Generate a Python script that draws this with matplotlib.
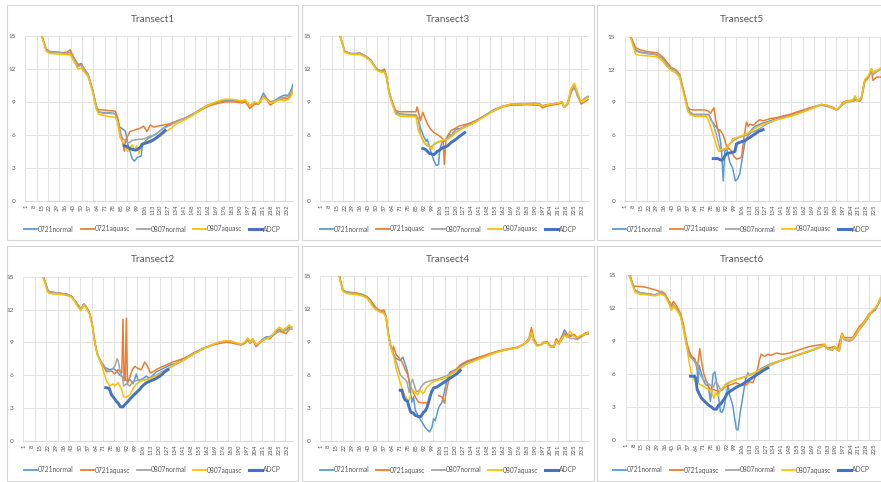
import matplotlib
matplotlib.use("Agg")
import matplotlib.pyplot as plt
from matplotlib.patches import Rectangle
from matplotlib.lines import Line2D
import numpy as np

plt.rcParams['font.family'] = ['Lato', 'DejaVu Sans']

NAN = float("nan")

SERIES_NAMES = ["0721normal", "0721aquasc", "0807normal", "0807aquasc", "ADCP"]
SERIES_COLORS = ["#5B9BD5", "#ED7D31", "#A5A5A5", "#FFC000", "#4472C4"]
SERIES_WIDTHS = [1.1, 1.1, 1.1, 1.1, 2.1]

N_CATEGORIES = 237
TICK_CATS = list(range(1, 233, 7))
TICK_LABELS = [str(c) for c in TICK_CATS]
Y_TICKS = [0, 3, 6, 9, 12, 15]

# ---------------- Transect1 ----------------
T1_0721NORMAL = [(12, 16.0), (15, 15.0), (19, 13.8), (22, 13.6), (30, 13.5), (37, 13.45), (40, 13.5), (44, 12.9),
                 (47, 12.4), (50, 12.5), (52, 12.1), (56, 11.5), (60, 10.1), (63, 8.7), (65, 8.1), (70, 8.0),
                 (75, 8.0), (80, 7.95), (82, 7.4), (84, 6.7), (87, 6.5), (89, 6.3), (91, 5.2), (93, 4.5),
                 (95, 3.8), (97, 3.6), (99, 3.9), (101, 4.0), (103, 4.1), (104, 5.1), (107, 5.5), (111, 5.8),
                 (115, 6.0), (120, 6.4), (125, 6.8), (130, 7.0), (134, 7.2), (141, 7.5), (148, 7.85), (155, 8.3),
                 (162, 8.7), (170, 8.95), (177, 9.1), (185, 9.1), (192, 9.0), (195, 9.1), (199, 8.6), (203, 8.9),
                 (207, 8.9), (211, 9.8), (214, 9.3), (217, 9.0), (221, 9.1), (225, 9.4), (229, 9.6), (233, 9.6),
                 (236, 10.2), (237, 10.6)]
T1_0721AQUASC = [(12, 16.0), (15, 15.0), (19, 13.7), (22, 13.55), (30, 13.5), (37, 13.5), (40, 13.75), (44, 12.9),
                 (47, 12.3), (50, 12.4), (52, 12.0), (56, 11.4), (60, 10.0), (63, 8.6), (65, 8.3), (70, 8.25),
                 (75, 8.2), (80, 8.15), (82, 7.6), (84, 6.5), (86, 5.6), (88, 4.5), (89, 5.5), (91, 5.9),
                 (93, 6.3), (96, 6.4), (99, 6.5), (102, 6.6), (105, 6.8), (108, 6.3), (111, 6.9), (114, 6.7),
                 (118, 6.8), (123, 6.9), (128, 7.0), (134, 7.25), (141, 7.5), (148, 7.8), (155, 8.2), (162, 8.6),
                 (170, 8.85), (177, 9.0), (185, 9.0), (192, 8.9), (195, 9.0), (199, 8.4), (203, 8.8), (207, 8.8),
                 (211, 9.5), (214, 9.2), (217, 8.7), (221, 9.0), (225, 9.2), (229, 9.3), (233, 9.3), (236, 9.8),
                 (237, 10.1)]
T1_0807NORMAL = [(12, 16.0), (15, 15.0), (19, 13.7), (22, 13.55), (30, 13.5), (37, 13.4), (40, 13.5), (44, 12.8),
                 (47, 12.2), (50, 12.35), (52, 12.0), (56, 11.4), (60, 10.0), (63, 8.6), (65, 8.1), (70, 7.95),
                 (75, 7.95), (80, 7.9), (82, 7.2), (85, 6.0), (87, 5.6), (89, 5.5), (91, 5.3), (93, 5.3),
                 (95, 5.5), (98, 5.55), (101, 5.6), (104, 5.6), (107, 5.7), (111, 5.9), (115, 6.0), (120, 6.4),
                 (125, 6.7), (130, 6.95), (134, 7.2), (141, 7.5), (148, 7.85), (155, 8.3), (162, 8.7), (170, 9.0),
                 (177, 9.2), (185, 9.2), (192, 9.0), (195, 9.1), (199, 8.7), (203, 8.9), (207, 8.9), (211, 9.5),
                 (214, 9.2), (217, 9.0), (221, 9.1), (225, 9.3), (229, 9.4), (233, 9.5), (236, 9.9), (237, 10.2)]
T1_0807AQUASC = [(12, 16.0), (15, 15.0), (19, 13.6), (22, 13.4), (30, 13.35), (37, 13.3), (40, 13.3), (44, 12.6),
                 (47, 12.0), (50, 12.1), (52, 11.8), (56, 11.3), (60, 9.9), (63, 8.4), (65, 7.9), (70, 7.75),
                 (75, 7.65), (80, 7.6), (82, 7.2), (84, 5.8), (87, 5.3), (89, 5.0), (91, 4.5), (93, 4.8),
                 (95, 5.1), (97, 4.6), (99, 5.0), (101, 4.3), (103, 5.2), (105, 5.3), (108, 5.4), (111, 5.5),
                 (115, 5.6), (120, 5.9), (125, 6.3), (130, 6.65), (134, 7.0), (141, 7.35), (148, 7.75), (155, 8.25),
                 (162, 8.7), (170, 9.05), (177, 9.25), (185, 9.2), (192, 9.1), (195, 9.2), (199, 8.6), (203, 9.0),
                 (207, 8.9), (211, 9.4), (214, 9.2), (217, 8.9), (221, 9.0), (225, 9.2), (229, 9.1), (233, 9.2),
                 (236, 9.6), (237, 10.0)]
T1_ADCP = [(88, 5.0), (90, 4.95), (92, 4.8), (94, 4.7), (96, 4.65), (98, 4.6), (100, 4.7), (102, 4.85),
           (104, 5.15), (107, 5.25), (110, 5.35), (113, 5.5), (116, 5.7), (119, 5.95), (122, 6.2), (124, 6.4)]

# ---------------- Transect3 ----------------
T3_0721NORMAL = [(15, 16.2), (18, 15.0), (22, 13.6), (27, 13.4), (33, 13.4), (35, 13.45), (40, 13.2), (45, 12.8),
                 (50, 12.0), (54, 11.8), (57, 11.9), (59, 11.3), (61, 10.0), (64, 8.9), (67, 8.1), (71, 7.9),
                 (78, 7.85), (85, 7.8), (87, 7.4), (89, 6.6), (92, 5.8), (94, 5.4), (95, 5.6), (97, 4.9),
                 (98, 4.5), (101, 3.6), (103, 3.2), (105, 3.3), (106, 4.7), (108, 5.3), (111, 5.5), (114, 6.1),
                 (116, 5.9), (120, 6.5), (125, 6.6), (130, 6.9), (134, 7.1), (140, 7.4), (147, 7.85), (154, 8.3),
                 (162, 8.6), (169, 8.75), (176, 8.8), (183, 8.8), (190, 8.85), (194, 8.8), (197, 8.6), (200, 8.7),
                 (205, 8.8), (211, 8.9), (214, 9.0), (216, 8.5), (219, 8.8), (222, 10.0), (225, 10.4), (228, 9.5),
                 (231, 9.0), (234, 9.3), (237, 9.5)]
T3_0721AQUASC = [(15, 16.2), (18, 15.0), (22, 13.6), (27, 13.4), (33, 13.35), (35, 13.4), (40, 13.2), (45, 12.8),
                 (50, 12.0), (54, 11.8), (57, 12.0), (59, 11.3), (61, 10.0), (64, 9.0), (67, 8.2), (71, 8.1),
                 (78, 8.1), (85, 8.1), (86, 8.55), (89, 7.3), (91, 8.05), (95, 7.0), (98, 6.5), (101, 6.2),
                 (104, 6.0), (107, 5.8), (109, 5.6), (110, 3.3), (111.5, 5.6), (114, 6.0), (116, 6.4), (118, 6.5),
                 (120, 6.6), (123, 6.8), (127, 6.9), (134, 7.1), (140, 7.4), (147, 7.8), (154, 8.2), (162, 8.55),
                 (169, 8.7), (176, 8.7), (183, 8.75), (190, 8.7), (194, 8.7), (197, 8.45), (200, 8.6), (205, 8.7),
                 (211, 8.8), (214, 8.9), (216, 8.5), (219, 8.8), (222, 9.8), (225, 10.5), (228, 9.6), (231, 8.8),
                 (234, 9.0), (237, 9.2)]
T3_0807NORMAL = [(15, 16.2), (18, 15.0), (22, 13.6), (27, 13.4), (33, 13.4), (35, 13.5), (40, 13.2), (45, 12.8),
                 (50, 12.0), (54, 11.8), (57, 11.8), (59, 11.2), (61, 10.0), (64, 8.9), (67, 8.0), (71, 7.85),
                 (78, 7.8), (85, 7.8), (87, 7.5), (89, 6.0), (92, 5.3), (95, 5.0), (98, 4.9), (101, 5.1),
                 (104, 5.3), (110, 5.5), (116, 5.9), (122, 6.4), (128, 6.7), (134, 7.0), (140, 7.35), (147, 7.8),
                 (154, 8.25), (162, 8.6), (169, 8.8), (176, 8.85), (183, 8.85), (190, 8.9), (194, 8.85), (197, 8.65),
                 (200, 8.75), (205, 8.8), (211, 8.9), (214, 9.0), (216, 8.5), (219, 8.8), (222, 9.9), (225, 10.3),
                 (228, 9.5), (231, 9.0), (234, 9.3), (237, 9.45)]
T3_0807AQUASC = [(15, 16.2), (18, 15.0), (22, 13.5), (27, 13.35), (33, 13.3), (35, 13.35), (40, 13.1), (45, 12.7),
                 (50, 11.9), (54, 11.7), (57, 11.7), (59, 11.2), (61, 9.9), (64, 8.8), (67, 7.9), (71, 7.7),
                 (78, 7.65), (85, 7.65), (87, 6.4), (90, 5.8), (92, 5.3), (95, 5.1), (97, 4.9), (99, 4.7),
                 (101, 5.2), (104, 5.35), (108, 5.5), (113, 5.6), (116, 5.8), (120, 6.2), (126, 6.6), (134, 6.95),
                 (140, 7.3), (147, 7.75), (154, 8.2), (162, 8.6), (169, 8.8), (176, 8.8), (183, 8.8), (190, 8.8),
                 (194, 8.75), (197, 8.6), (200, 8.7), (205, 8.8), (211, 8.9), (214, 9.0), (216, 8.5), (219, 8.9),
                 (222, 10.2), (225, 10.7), (228, 9.8), (231, 9.0), (234, 9.2), (237, 9.4)]
T3_ADCP = [(91, 4.75), (93, 4.7), (95, 4.5), (97, 4.3), (99, 4.25), (101, 4.2), (104, 4.5), (106, 4.6),
           (108, 4.8), (111, 4.9), (113, 5.0), (116, 5.3), (119, 5.5), (121, 5.65), (124, 5.9), (128, 6.2)]

# ---------------- Transect5 ----------------
T5_0721NORMAL = [(3, 16.0), (5.5, 15.0), (10, 13.8), (14, 13.6), (20, 13.5), (27, 13.4), (30, 13.3), (35, 12.9),
                 (38, 12.5), (42, 12.1), (46, 11.9), (48, 11.7), (50, 11.4), (52, 10.5), (54.5, 9.5), (57, 8.5),
                 (59, 8.1), (62, 7.9), (72, 7.9), (76, 7.9), (78.5, 7.3), (81.5, 6.9), (84.5, 6.5), (86.6, 5.4),
                 (87.5, 4.5), (89, 1.8), (90.5, 4.5), (92, 4.8), (95, 3.5), (97.4, 3.0), (100, 1.8), (102, 2.0),
                 (104, 2.5), (106.4, 4.0), (108.5, 5.3), (111.5, 6.0), (114.5, 6.5), (117.5, 6.8), (122, 7.0),
                 (128, 7.2), (137, 7.5), (149, 7.8), (158, 8.1), (167, 8.4), (174.6, 8.7), (177.6, 8.8),
                 (183.5, 8.7), (186.6, 8.5), (191, 8.3), (192.6, 8.4), (197, 8.9), (200, 9.1), (206, 9.2),
                 (208, 9.3), (212, 9.1), (213.6, 9.5), (216.6, 11.0), (219.6, 11.3), (222.6, 12.0), (224, 11.7),
                 (227, 11.8), (231, 12.1), (236, 12.3)]
T5_0721AQUASC = [(3, 16.2), (5.5, 15.1), (10, 14.0), (14, 13.8), (20, 13.65), (27, 13.55), (30, 13.5), (35, 13.1),
                 (38, 12.7), (42, 12.2), (46, 12.0), (48, 11.8), (50, 11.5), (52, 10.6), (54.5, 9.6), (57, 8.6),
                 (59, 8.35), (62, 8.3), (72, 8.3), (75.5, 8.2), (77.6, 8.0), (80.6, 8.5), (82.4, 7.3), (84.5, 6.3),
                 (86, 6.5), (89, 6.0), (90.5, 5.5), (92, 5.0), (93.5, 4.8), (96, 4.6), (99, 4.0), (101, 3.8),
                 (104, 3.9), (105.5, 4.0), (108, 6.0), (110, 7.2), (111.5, 6.8), (113, 7.0), (116, 6.9),
                 (119, 7.2), (122, 7.4), (125, 7.3), (131, 7.5), (137, 7.6), (149, 7.9), (158, 8.2), (167, 8.5),
                 (174.6, 8.7), (177.6, 8.75), (183.5, 8.6), (186.6, 8.6), (191, 8.35), (192.6, 8.4), (197, 9.0),
                 (200, 9.1), (206, 9.1), (208, 9.2), (212, 9.1), (213.6, 9.3), (216.6, 10.9), (219.6, 11.2),
                 (222.6, 11.9), (224, 11.0), (227, 11.3), (231, 11.3), (236, 11.5)]
T5_0807NORMAL = [(3, 16.0), (5.5, 15.0), (10, 13.7), (14, 13.55), (20, 13.45), (27, 13.4), (30, 13.3), (35, 12.9),
                 (38, 12.5), (42, 12.1), (46, 11.9), (48, 11.7), (50, 11.4), (52, 10.5), (54.5, 9.5), (57, 8.5),
                 (59, 8.05), (62, 7.85), (72, 7.85), (76, 7.85), (80, 7.0), (83, 6.0), (85.4, 5.0), (86.9, 4.5),
                 (89, 4.6), (92, 4.8), (95, 5.2), (99.5, 5.6), (104, 5.8), (110, 6.0), (116, 6.3), (122, 6.6),
                 (128, 7.0), (137, 7.4), (149, 7.75), (158, 8.05), (167, 8.4), (174.6, 8.7), (177.6, 8.8),
                 (183.5, 8.6), (186.6, 8.5), (191, 8.3), (192.6, 8.4), (197, 8.8), (200, 9.0), (206, 9.1),
                 (208, 9.2), (212, 9.1), (213.6, 9.4), (216.6, 11.0), (219.6, 11.3), (222.6, 12.0), (224, 11.5),
                 (227, 11.8), (231, 12.0), (236, 12.2)]
T5_0807AQUASC = [(3, 15.8), (5.5, 14.9), (10, 13.4), (14, 13.3), (20, 13.25), (27, 13.2), (30, 13.15), (35, 12.7),
                 (38, 12.3), (42, 11.9), (46, 11.7), (48, 11.5), (50, 11.2), (52, 10.3), (54.5, 9.3), (57, 8.2),
                 (59, 7.9), (62, 7.75), (72, 7.7), (74, 7.7), (77, 7.0), (80, 6.0), (83, 5.0), (85.1, 4.5),
                 (87.5, 4.7), (92, 4.8), (95, 5.2), (98, 5.7), (102.5, 5.8), (107, 6.0), (113, 6.3), (119, 6.7),
                 (125, 7.0), (131, 7.2), (137, 7.4), (149, 7.7), (158, 8.0), (167, 8.35), (174.6, 8.65),
                 (177.6, 8.8), (183.5, 8.7), (186.6, 8.5), (191, 8.35), (192.6, 8.45), (197, 8.9), (200, 9.1),
                 (206, 9.2), (207.6, 9.6), (210, 9.1), (213.6, 9.5), (216.6, 11.1), (219.6, 11.4), (222.6, 12.1),
                 (224, 11.7), (227, 11.9), (231, 12.1), (236, 12.3)]
T5_ADCP = [(80, 3.85), (82, 3.85), (84.5, 3.85), (86, 3.75), (87.5, 3.7), (89, 3.8), (90.5, 4.1), (92, 4.3),
           (94, 4.35), (96.5, 4.4), (99.5, 4.5), (101, 5.2), (103, 5.3), (105.5, 5.4), (108.5, 5.5),
           (111.5, 5.7), (114, 5.85), (116, 6.0), (119, 6.2), (121, 6.35), (125, 6.5)]

# ---------------- Transect2 ----------------
T2_0721NORMAL = [(15, 16.0), (18, 15.0), (21.8, 13.8), (23.8, 13.6), (31, 13.5), (38.4, 13.4), (42.8, 13.2),
                 (45.7, 12.8), (48.7, 12.4), (51, 12.0), (53.6, 12.5), (55.4, 12.3), (57.4, 11.9), (58.9, 11.6),
                 (61.2, 10.5), (63.3, 9.0), (65.3, 8.0), (67.7, 7.4), (69.1, 7.0), (72.1, 6.7), (76.4, 6.5),
                 (79.4, 6.6), (82.3, 6.4), (85.2, 6.0), (88.1, 5.8), (91.1, 5.5), (94, 5.6), (96.9, 5.2),
                 (99.8, 6.1), (101.3, 5.5), (104.2, 5.6), (108.6, 5.9), (111.5, 5.7), (114.5, 6.0), (117.4, 6.3),
                 (123.2, 6.6), (129, 6.9), (135, 7.1), (142, 7.5), (149.5, 8.0), (158.3, 8.45), (167.1, 8.8),
                 (172.9, 9.0), (178.8, 9.1), (183.2, 9.05), (187.5, 8.9), (192, 8.8), (194.9, 8.9), (197.8, 9.3),
                 (199.8, 9.0), (202.2, 9.3), (205.1, 8.7), (208, 9.0), (211, 9.3), (213.9, 9.5), (216.8, 9.5),
                 (219.7, 9.7), (222.6, 10.0), (225.6, 10.2), (228.5, 10.0), (231.4, 10.2), (234.3, 10.4),
                 (236.4, 10.2)]
T2_0721AQUASC = [(15, 16.0), (18, 15.0), (21.8, 13.8), (23.8, 13.6), (31, 13.5), (38.4, 13.4), (42.8, 13.2),
                 (45.7, 12.8), (48.7, 12.4), (51, 12.0), (53.6, 12.5), (55.4, 12.3), (57.4, 11.9), (58.9, 11.6),
                 (61.2, 10.5), (63.3, 9.0), (65.3, 8.0), (67.7, 7.4), (70.6, 6.9), (73.5, 6.3), (77.9, 6.4),
                 (80.8, 6.1), (83.7, 6.5), (85.8, 6.3), (87, 6.2), (88, 11.1), (89, 5.5), (90, 5.6), (91, 11.2),
                 (92, 5.2), (94.6, 6.0), (96.3, 6.5), (98.4, 6.8), (101.3, 6.6), (104.2, 6.5), (107.1, 7.2),
                 (109.2, 6.9), (112.1, 6.2), (114.5, 6.3), (118.8, 6.6), (123.2, 6.8), (127.6, 7.0), (132, 7.2),
                 (135, 7.3), (142, 7.55), (149.5, 7.95), (158.3, 8.4), (167.1, 8.75), (172.9, 8.9), (178.8, 9.0),
                 (183.2, 8.95), (187.5, 8.85), (192, 8.75), (194.9, 8.9), (197.8, 9.2), (199.8, 8.9), (202.2, 9.2),
                 (205.1, 8.6), (208, 8.9), (211, 9.2), (213.9, 9.4), (216.8, 9.3), (219.7, 9.6), (222.6, 9.9),
                 (225.6, 10.0), (228.5, 9.9), (231.4, 9.8), (234.3, 10.2), (236.4, 10.4)]
T2_0807NORMAL = [(15, 16.0), (18, 15.0), (21.8, 13.8), (23.8, 13.6), (31, 13.5), (38.4, 13.4), (42.8, 13.2),
                 (45.7, 12.8), (48.7, 12.4), (51, 12.0), (53.6, 12.5), (55.4, 12.3), (57.4, 11.9), (58.9, 11.6),
                 (61.2, 10.5), (63.3, 9.0), (65.3, 8.0), (67.7, 7.4), (70.6, 7.0), (73.5, 6.5), (76.4, 6.3),
                 (80.8, 6.8), (82.9, 7.5), (84, 7.2), (85.8, 6.2), (87.5, 5.8), (88.7, 5.0), (91.1, 5.2),
                 (94, 5.0), (96.9, 5.4), (99.8, 5.5), (104.2, 5.6), (108.6, 5.6), (113, 5.8), (117.4, 6.0),
                 (121.8, 6.3), (127.6, 6.6), (135, 7.0), (142, 7.4), (149.5, 7.9), (158.3, 8.4), (167.1, 8.8),
                 (172.9, 9.0), (178.8, 9.1), (183.2, 9.1), (187.5, 8.9), (192, 8.8), (194.9, 8.9), (197.8, 9.3),
                 (199.8, 9.0), (202.2, 9.3), (205.1, 8.7), (208, 9.0), (211, 9.2), (213.9, 9.4), (216.8, 9.5),
                 (219.7, 9.6), (222.6, 9.8), (225.6, 10.1), (228.5, 10.0), (231.4, 10.1), (234.3, 10.3),
                 (236.4, 10.2)]
T2_0807AQUASC = [(15, 15.9), (18, 14.9), (21.8, 13.6), (23.8, 13.45), (31, 13.4), (38.4, 13.3), (42.8, 13.1),
                 (45.7, 12.7), (48.7, 12.2), (51, 11.9), (53.6, 12.4), (55.4, 12.2), (57.4, 11.8), (58.9, 11.5),
                 (61.2, 10.4), (63.3, 8.9), (65.3, 7.9), (67.7, 7.3), (69.1, 7.0), (71.2, 6.2), (73.5, 5.5),
                 (76.4, 5.0), (79.4, 5.2), (80.8, 5.0), (83.7, 5.3), (86.7, 4.7), (88.7, 4.0), (91.1, 4.0),
                 (94, 4.2), (96.9, 4.8), (99.8, 5.2), (102.8, 5.4), (105.7, 5.5), (110.1, 5.6), (114.5, 5.8),
                 (118.8, 6.0), (123.2, 6.3), (127.6, 6.6), (133.5, 7.0), (142, 7.4), (149.5, 7.9), (158.3, 8.4),
                 (167.1, 8.8), (172.9, 9.05), (178.8, 9.15), (183.2, 9.1), (187.5, 8.95), (192, 8.85),
                 (194.9, 9.0), (197.8, 9.4), (199.8, 9.0), (202.2, 9.3), (205.1, 8.8), (208, 9.0), (211, 9.2),
                 (213.9, 9.3), (216.8, 9.4), (219.7, 9.7), (222.6, 10.1), (225.6, 10.4), (228.5, 10.1),
                 (231.4, 10.3), (234.3, 10.6), (236.4, 10.3)]
T2_ADCP = [(72.9, 4.85), (75.9, 4.8), (77.9, 4.2), (80.2, 3.9), (82.3, 3.6), (84, 3.4), (85.8, 3.1), (88.1, 3.1),
           (90.5, 3.4), (92.5, 3.6), (94.9, 3.9), (96.9, 4.1), (99.8, 4.4), (102.8, 4.7), (105.1, 5.0),
           (108.6, 5.3), (113, 5.5), (117.4, 5.7), (121.8, 6.0), (124.7, 6.3), (127.6, 6.5)]

# ---------------- Transect4 ----------------
T4_0721NORMAL = [(14, 16.2), (17.5, 15.0), (20.5, 13.7), (24, 13.5), (33, 13.4), (37.3, 13.3), (41.7, 13.1),
                 (44.7, 12.8), (47, 12.4), (50, 12.0), (53.5, 11.8), (56.5, 11.7), (58.8, 11.3), (60.3, 10.0),
                 (62.4, 8.8), (64.7, 8.0), (67.7, 7.5), (71.2, 7.3), (73.6, 7.6), (75.6, 7.0), (77.7, 6.3),
                 (80, 4.8), (81.5, 3.5), (83, 4.0), (84.5, 2.8), (87.4, 2.2), (90.4, 1.7), (93.3, 1.2),
                 (97.2, 0.8), (99.2, 1.2), (100.7, 2.0), (102.2, 1.8), (105.1, 3.0), (108.1, 3.5), (111, 4.8),
                 (112.5, 5.5), (114.9, 6.2), (118.4, 6.4), (121.4, 6.5), (124.3, 6.8), (127.3, 7.0),
                 (130.2, 7.15), (139, 7.5), (147.9, 7.8), (156.8, 8.1), (165.6, 8.3), (174.5, 8.5), (180.4, 8.8),
                 (184.8, 9.2), (187.1, 9.9), (189.2, 9.1), (192.2, 8.7), (195.1, 8.7), (198.1, 9.0), (201, 9.0),
                 (204, 8.6), (206.9, 8.5), (209, 9.1), (211.3, 8.8), (213.4, 9.3), (216.3, 10.1), (218.7, 9.7),
                 (221.7, 9.6), (224.6, 9.6), (227.5, 9.3), (230.5, 9.5), (234.9, 9.8), (237, 9.8)]
T4_0721AQUASC = [(14, 16.2), (17.5, 15.0), (20.5, 13.75), (24, 13.55), (33, 13.45), (37.3, 13.35), (41.7, 13.15),
                 (44.7, 12.85), (47, 12.5), (50, 12.1), (53.5, 11.85), (57, 11.9), (58.8, 11.3), (60.3, 10.0),
                 (62.4, 8.8), (64.7, 8.1), (65.3, 8.6), (67.7, 7.8), (69.7, 7.6), (72.7, 7.2), (75.6, 6.5),
                 (78, 6.0), (80, 5.0), (82.4, 4.5), (84.5, 4.0), (87.4, 3.5), (90.4, 3.45), (96.3, 3.45),
                 (100, NAN), (105.1, 4.1), (108.1, 4.0), (110.4, 3.4), (111.9, 4.5), (114, 5.5), (116, 6.3),
                 (118.4, 6.2), (121.4, 6.6), (124.3, 6.9), (127.3, 7.1), (130.2, 7.25), (139, 7.55), (147.9, 7.85),
                 (156.8, 8.15), (165.6, 8.35), (174.5, 8.5), (180.4, 8.8), (184.8, 9.3), (187.1, 10.3),
                 (189.2, 9.3), (192.2, 8.7), (195.1, 8.7), (198.1, 9.0), (201, 9.0), (204, 8.6), (206.9, 8.6),
                 (209, 9.3), (211.3, 8.9), (213.4, 9.4), (216.3, 9.8), (218.7, 9.6), (221.7, 9.5), (224.6, 9.7),
                 (227.5, 9.4), (230.5, 9.5), (234.9, 9.8), (237, 9.7)]
T4_0807NORMAL = [(14, 16.2), (17.5, 15.0), (20.5, 13.7), (24, 13.5), (33, 13.4), (37.3, 13.3), (41.7, 13.1),
                 (44.7, 12.7), (47, 12.3), (50, 12.0), (53.5, 11.8), (56.5, 11.7), (58.8, 11.3), (60.3, 10.0),
                 (62.4, 8.8), (64.7, 8.0), (65.9, 7.8), (68.3, 7.0), (71.2, 6.0), (74.2, 5.7), (77.1, 5.4),
                 (79.2, 4.4), (80.6, 5.2), (82.1, 5.6), (83, 5.3), (85.4, 4.5), (87.4, 4.5), (90.4, 5.0),
                 (93.3, 5.3), (96.3, 5.4), (99.2, 5.5), (103.7, 5.6), (109.6, 5.8), (115.5, 6.1), (121.4, 6.4),
                 (125.8, 6.7), (130.2, 7.0), (139, 7.4), (147.9, 7.75), (156.8, 8.1), (165.6, 8.3), (174.5, 8.45),
                 (180.4, 8.75), (184.8, 9.1), (187.1, 9.7), (189.2, 9.1), (192.2, 8.7), (195.1, 8.7), (198.1, 8.9),
                 (201, 8.9), (204, 8.6), (206.9, 8.6), (209, 9.0), (211.3, 8.8), (213.4, 9.1), (216.3, 9.7),
                 (218.7, 9.5), (221.7, 9.3), (224.6, 9.3), (227.5, 9.2), (230.5, 9.4), (234.9, 9.7), (237, 9.8)]
T4_0807AQUASC = [(14, 16.0), (17.5, 14.9), (20.5, 13.6), (24, 13.4), (33, 13.3), (37.3, 13.2), (41.7, 13.0),
                 (44.7, 12.6), (47, 12.2), (50, 11.9), (53.5, 11.7), (56.5, 11.6), (58.8, 11.2), (60.3, 9.9),
                 (62.4, 8.7), (64.7, 7.9), (65.9, 7.5), (67.7, 6.5), (70.6, 5.5), (72.7, 4.8), (75, 4.2),
                 (77.1, 3.8), (78.6, 3.6), (80.6, 4.2), (82.4, 4.6), (84.5, 4.4), (86.8, 4.2), (88.8, 4.6),
                 (91.3, 4.3), (92.4, 4.4), (94.2, 4.8), (97.2, 5.1), (99.2, 5.3), (103.7, 5.5), (108.1, 5.6),
                 (112.5, 5.8), (116.9, 6.1), (121.4, 6.4), (125.8, 6.7), (130.2, 7.0), (139, 7.35), (147.9, 7.7),
                 (156.8, 8.05), (165.6, 8.3), (174.5, 8.45), (180.4, 8.8), (184.8, 9.2), (187.1, 9.9), (189.2, 9.0),
                 (192.2, 8.6), (195.1, 8.7), (198.1, 9.0), (201, 8.9), (204, 8.5), (206.9, 8.6), (209, 9.1),
                 (211.3, 8.8), (213.4, 9.2), (216.3, 9.6), (218.7, 9.4), (221.1, 10.0), (224.6, 9.5), (227.5, 9.4),
                 (230.5, 9.6), (234.9, 9.7), (237, 9.9)]
T4_ADCP = [(71.2, 4.6), (72.7, 4.6), (74.2, 4.0), (75.6, 3.7), (77.7, 3.6), (79.2, 3.0), (80.6, 2.6), (83, 2.5),
           (84.5, 2.3), (87.4, 2.2), (89.5, 2.2), (91.9, 2.6), (93.3, 2.7), (94.8, 3.0), (96.3, 3.5),
           (97.8, 4.1), (99.2, 4.5), (100.7, 4.8), (103.7, 4.9), (106.6, 5.1), (109.6, 5.3), (114, 5.6),
           (118.4, 5.9), (121.4, 6.1), (124.3, 6.4)]

# ---------------- Transect6 ----------------
T6_0721NORMAL = [(1, 16.5), (4, 15.0), (9.1, 13.6), (13.6, 13.4), (19.6, 13.3), (27.1, 13.2), (30.1, 13.3),
                 (31.6, 13.4), (36.1, 13.2), (38.2, 12.8), (40.6, 12.3), (42.1, 11.9), (43.6, 12.3), (46, 12.0),
                 (48.1, 11.7), (50.2, 11.3), (52.6, 10.3), (54.1, 9.5), (55.6, 8.7), (58.6, 7.8), (60.7, 7.5),
                 (63.1, 7.2), (64.6, 7.0), (66.1, 5.2), (67, 6.8), (70.6, 5.5), (73, 5.0), (75.1, 5.0),
                 (77.2, 3.5), (79.6, 6.0), (81.1, 6.2), (83.2, 5.0), (85, 3.5), (86.2, 2.6), (87.7, 2.5),
                 (89.5, 3.0), (91.6, 4.2), (93.1, 5.0), (94.6, 4.0), (96.1, 3.6), (97.6, 3.0), (99, 2.0),
                 (100.5, 1.0), (102, 0.9), (104.1, 2.5), (106.5, 4.0), (108.9, 5.5), (111, 6.1), (112.5, 5.9),
                 (115.5, 6.0), (118.5, 6.2), (123, 6.5), (129, 6.8), (133.5, 7.0), (142.5, 7.3), (151.5, 7.6),
                 (160.5, 7.9), (169.5, 8.2), (177, 8.5), (180, 8.7), (183, 8.3), (187.5, 8.2), (189, 8.5),
                 (192, 8.2), (193.5, 8.1), (195.9, 9.6), (198, 9.2), (202.5, 9.0), (205.5, 9.2), (208.5, 9.6),
                 (211.5, 10.1), (214.5, 10.4), (217.5, 10.8), (220.5, 11.3), (223.5, 11.7), (225.9, 11.8),
                 (228, 12.2), (230.4, 12.7), (235.5, 13.3)]
T6_0721AQUASC = [(1, 16.8), (4, 15.2), (7.6, 14.0), (13.6, 13.95), (18.1, 13.9), (25.6, 13.7), (31.6, 13.5),
                 (33.1, 13.5), (36.1, 13.3), (38.2, 12.9), (40.6, 12.5), (42.1, 12.2), (43.6, 12.6), (46, 12.3),
                 (48.1, 11.9), (50.2, 11.5), (52.6, 10.6), (54.1, 9.8), (55.6, 9.0), (56.5, 8.6), (59.5, 7.7),
                 (61.6, 7.5), (63.1, 7.4), (64, 6.9), (65.2, 6.5), (67.6, 8.3), (69.4, 7.0), (71.2, 6.0),
                 (73, 5.5), (75.1, 5.0), (77.2, 4.5), (80, 4.6), (85, 4.4), (90, 4.8), (95, 5.0), (100, 5.2),
                 (105, 5.0), (109.5, 5.0), (112.5, 5.3), (115.5, 5.2), (118.5, 6.0), (120, 6.6), (121.5, 7.3),
                 (123, 7.8), (126, 7.6), (129, 7.8), (132, 7.7), (136.5, 7.9), (142.5, 7.8), (148.5, 7.9),
                 (154.5, 8.1), (160.5, 8.3), (166.5, 8.5), (172.5, 8.6), (178.5, 8.7), (181.5, 8.4), (186, 8.4),
                 (189, 8.5), (192, 8.3), (195.9, 9.7), (198, 9.3), (202.5, 9.3), (205.5, 9.3), (208.5, 9.8),
                 (211.5, 10.3), (214.5, 10.6), (217.5, 11.0), (220.5, 11.5), (223.5, 11.6), (225.9, 11.9),
                 (228, 12.3), (230.4, 12.8), (235.5, 13.4)]
T6_0807NORMAL = [(1, 16.5), (4, 15.0), (9.1, 13.6), (13.6, 13.4), (19.6, 13.3), (27.1, 13.2), (30.1, 13.3),
                 (31.6, 13.4), (36.1, 13.2), (38.2, 12.8), (40.6, 12.3), (42.1, 11.9), (43.6, 12.3), (46, 12.0),
                 (48.1, 11.7), (50.2, 11.3), (52.6, 10.3), (54.1, 9.5), (55.6, 8.7), (58.6, 7.6), (64, 7.0),
                 (67.6, 6.0), (70.6, 5.5), (73.5, 5.3), (76.6, 5.0), (79.6, 4.8), (82, 5.3), (84.1, 5.0),
                 (86.2, 4.6), (88, 4.5), (90.1, 5.0), (93.1, 5.2), (97.6, 5.4), (103.5, 5.6), (109.5, 5.8),
                 (115.5, 6.0), (121.5, 6.3), (126, 6.5), (133.5, 6.9), (142.5, 7.25), (151.5, 7.55), (160.5, 7.85),
                 (169.5, 8.15), (177, 8.45), (180, 8.6), (183, 8.25), (187.5, 8.15), (189, 8.4), (192, 8.15),
                 (193.5, 8.1), (195.9, 9.5), (198, 9.1), (202.5, 9.0), (205.5, 9.1), (208.5, 9.5), (211.5, 10.0),
                 (214.5, 10.4), (217.5, 10.8), (220.5, 11.3), (223.5, 11.7), (225.9, 11.8), (228, 12.2),
                 (230.4, 12.7), (235.5, 13.3)]
T6_0807AQUASC = [(1, 16.3), (4, 14.9), (9.1, 13.4), (13.6, 13.25), (19.6, 13.2), (27.1, 13.1), (30.1, 13.2),
                 (31.6, 13.3), (36.1, 13.1), (38.2, 12.7), (40.6, 12.2), (42.1, 11.8), (43.6, 12.2), (46, 11.9),
                 (48.1, 11.6), (50.2, 11.2), (52.6, 10.2), (54.1, 9.4), (55.6, 8.6), (56.5, 8.0), (58, 7.0),
                 (60.1, 6.0), (62.2, 5.5), (64.6, 5.2), (69.1, 5.0), (72.1, 4.8), (75.1, 4.6), (78.1, 4.5),
                 (80.2, 3.8), (82, 4.3), (84.1, 4.0), (86.2, 4.5), (88.6, 4.8), (91.6, 5.0), (96.1, 5.3),
                 (100.5, 5.5), (105, 5.6), (109.5, 5.8), (114, 6.0), (118.5, 6.2), (124.5, 6.5), (133.5, 6.95),
                 (142.5, 7.3), (151.5, 7.6), (160.5, 7.9), (169.5, 8.2), (177, 8.5), (180, 8.7), (183, 8.3),
                 (187.5, 8.2), (189, 8.5), (192, 8.2), (193.5, 8.15), (195.9, 9.6), (198, 9.2), (202.5, 9.1),
                 (205.5, 9.2), (208.5, 9.6), (211.5, 10.1), (214.5, 10.5), (217.5, 10.9), (220.5, 11.4),
                 (223.5, 11.8), (225.9, 12.0), (228, 12.3), (230.4, 12.9), (235.5, 13.4)]
T6_ADCP = [(59.2, 5.8), (63.1, 5.8), (64, 5.6), (65.2, 4.6), (67, 4.2), (69.1, 3.8), (72.1, 3.5), (75.1, 3.2),
           (78.1, 3.0), (80.5, 2.8), (82.6, 2.8), (84.1, 3.1), (86.5, 3.3), (88, 3.5), (90.1, 3.8), (92.2, 4.2),
           (94.6, 4.4), (97.6, 4.6), (100.5, 4.8), (105, 5.0), (108, 5.2), (112.5, 5.5), (117, 5.8),
           (121.5, 6.1), (126, 6.4), (129, 6.55)]

TRANSECTS = [
    ("Transect1", [T1_0721NORMAL, T1_0721AQUASC, T1_0807NORMAL, T1_0807AQUASC, T1_ADCP]),
    ("Transect3", [T3_0721NORMAL, T3_0721AQUASC, T3_0807NORMAL, T3_0807AQUASC, T3_ADCP]),
    ("Transect5", [T5_0721NORMAL, T5_0721AQUASC, T5_0807NORMAL, T5_0807AQUASC, T5_ADCP]),
    ("Transect2", [T2_0721NORMAL, T2_0721AQUASC, T2_0807NORMAL, T2_0807AQUASC, T2_ADCP]),
    ("Transect4", [T4_0721NORMAL, T4_0721AQUASC, T4_0807NORMAL, T4_0807AQUASC, T4_ADCP]),
    ("Transect6", [T6_0721NORMAL, T6_0721AQUASC, T6_0807NORMAL, T6_0807AQUASC, T6_ADCP]),
]

# Layout in pixels (origin top-left): chart frame and plot area of each panel
W, H = 881, 482
FRAMES = [(7, 5, 298, 240), (302, 5, 594, 240), (597, 5, 890, 240),
          (7, 246, 298, 481), (302, 246, 594, 481), (597, 246, 890, 481)]
PLOTS = [(25.4, 36.0, 293.4, 200.7), (320.4, 36.0, 588.5, 200.7), (625.0, 36.7, 888.0, 200.7),
         (23.4, 276.7, 293.0, 440.7), (320.1, 276.0, 588.5, 440.7), (625.5, 275.0, 888.0, 440.0)]

TEXT_COLOR = "#595959"
GRID_COLOR = "#E3E3E3"

fig = plt.figure(figsize=(W / 100, H / 100), dpi=100)
fig.patch.set_facecolor("white")

for (title, series), frame, plot in zip(TRANSECTS, FRAMES, PLOTS):
    fx0, fy0, fx1, fy1 = frame
    fig.patches.append(Rectangle((fx0 / W, 1 - fy1 / H), (fx1 - fx0) / W, (fy1 - fy0) / H,
                                 transform=fig.transFigure, facecolor="none",
                                 edgecolor="#D6D6D6", linewidth=0.8, zorder=-10))
    px0, py0, px1, py1 = plot
    ax = fig.add_axes([px0 / W, 1 - py1 / H, (px1 - px0) / W, (py1 - py0) / H])
    ax.set_facecolor("none")
    for pts, name, color, lw in zip(series, SERIES_NAMES, SERIES_COLORS, SERIES_WIDTHS):
        xs = [p[0] for p in pts]
        ys = [p[1] for p in pts]
        ax.plot(xs, ys, color=color, lw=lw, solid_joinstyle="round", label=name, zorder=3)
    ax.set_xlim(0.5, N_CATEGORIES + 0.5)
    ax.set_ylim(0, 15)
    ax.set_yticks(Y_TICKS)

    # category labels that would fall past the right edge of the image are left out
    px_per_cat = (px1 - px0) / N_CATEGORIES
    shown = [(c, s) for c, s in zip(TICK_CATS, TICK_LABELS)
             if px0 + (c - 0.5) * px_per_cat < W - 3]
    ax.set_xticks([c for c, _ in shown])
    ax.set_xticklabels([s for _, s in shown], rotation=90)
    ax.set_xticks(np.arange(0.5, N_CATEGORIES, 10), minor=True)
    ax.grid(which="minor", axis="x", color=GRID_COLOR, lw=0.7, zorder=0)
    ax.grid(which="major", axis="y", color=GRID_COLOR, lw=0.7, zorder=0)
    ax.tick_params(which="both", length=0)
    ax.tick_params(axis="y", labelsize=4.6, labelcolor=TEXT_COLOR, pad=7)
    ax.tick_params(axis="x", labelsize=4.3, labelcolor=TEXT_COLOR, pad=2.5)
    for side in ("top", "right", "left"):
        ax.spines[side].set_visible(False)
    ax.spines["bottom"].set_color("#D9D9D9")
    ax.spines["bottom"].set_linewidth(0.7)

    cx = (fx0 + fx1) / 2 if fx1 <= W else (fx0 + 886) / 2
    fig.text(cx / W, 1 - (fy0 + 14) / H, title, ha="center", va="center",
             fontsize=7.2, color=TEXT_COLOR)
    legend_handles = [Line2D([0], [0], color=c, lw=(1.3 if w < 1.5 else 2.2))
                      for c, w in zip(SERIES_COLORS, SERIES_WIDTHS)]
    ax.legend(legend_handles, SERIES_NAMES, loc="center",
              bbox_to_anchor=(cx / W, 1 - (fy0 + 224) / H), bbox_transform=fig.transFigure,
              ncol=5, frameon=False, fontsize=4.8, handlelength=2.0, handletextpad=0.1,
              columnspacing=1.0, labelcolor=TEXT_COLOR, borderpad=0, borderaxespad=0)

fig.savefig("out.png", dpi=100, facecolor="white")
